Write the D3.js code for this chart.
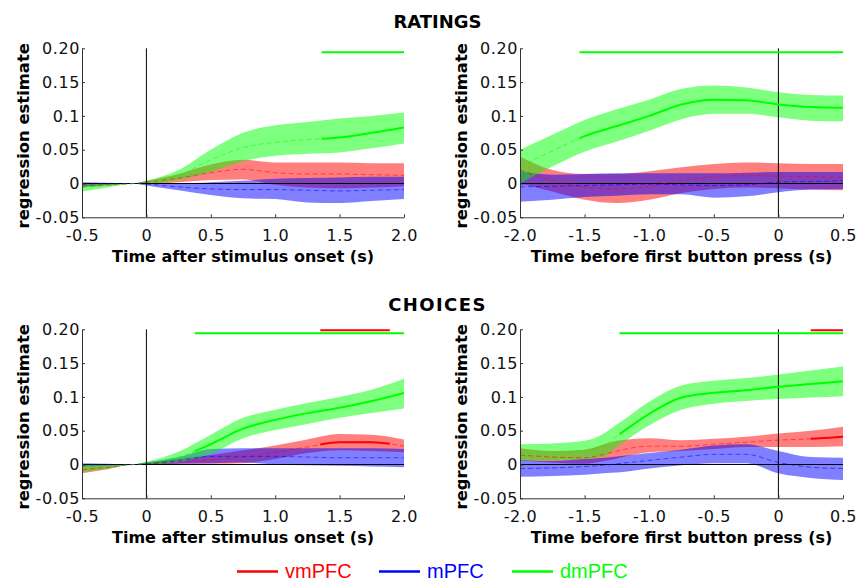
<!DOCTYPE html>
<html><head><meta charset="utf-8">
<script src="https://cdn.jsdelivr.net/npm/d3@7"></script>
<style>
body{margin:0;background:#fff;}
svg{display:block;}
</style></head>
<body>
<svg id="chart" width="858" height="586"></svg>
<script>
// ---------- data ----------
const seriesNames = ["vmPFC", "mPFC", "dmPFC"];
const seriesColors = ["#ff0000", "#0000ff", "#00ff00"];
const rowTitles = ["RATINGS", "CHOICES"];
const xLabelStim = "Time after stimulus onset (s)";
const xLabelPress = "Time before first button press (s)";
const yLabel = "regression estimate";

const yTicks = [-0.05, 0, 0.05, 0.1, 0.15, 0.20];
const yTickLabels = ["-0.05", "0", "0.05", "0.1", "0.15", "0.20"];
const xTicksStim = [-0.5, 0, 0.5, 1.0, 1.5, 2.0];
const xTickLabelsStim = ["-0.5", "0", "0.5", "1.0", "1.5", "2.0"];
const xTicksPress = [-2.0, -1.5, -1.0, -0.5, 0, 0.5];
const xTickLabelsPress = ["-2.0", "-1.5", "-1.0", "-0.5", "0", "0.5"];

// Panel A: ratings, stimulus-locked
const tA = [-0.5, -0.3, -0.1, 0, 0.25, 0.5, 0.75, 1.0, 1.25, 1.5, 1.75, 2.0];
const A_vm_mean = [-0.004, -0.002, 0, 0.002, 0.008, 0.016, 0.021, 0.016, 0.014, 0.014, 0.013, 0.012];
const A_vm_lo   = [-0.006, -0.003, 0, 0.0, 0.002, 0.005, 0.006, -0.002, -0.006, -0.007, -0.006, -0.004];
const A_vm_hi   = [-0.001, 0.0, 0, 0.004, 0.014, 0.028, 0.035, 0.031, 0.031, 0.031, 0.030, 0.030];
const A_m_mean  = [-0.001, 0.0, 0, -0.001, -0.005, -0.008, -0.009, -0.009, -0.010, -0.011, -0.010, -0.009];
const A_m_lo    = [-0.004, -0.002, 0, -0.003, -0.010, -0.017, -0.022, -0.023, -0.028, -0.029, -0.026, -0.023];
const A_m_hi    = [0.002, 0.001, 0, 0.001, 0.0, 0.002, 0.004, 0.007, 0.008, 0.009, 0.010, 0.010];
const A_dm_mean = [-0.006, -0.003, 0, 0.002, 0.012, 0.035, 0.053, 0.061, 0.065, 0.068, 0.075, 0.083];
const A_dm_lo   = [-0.012, -0.006, 0, 0.0, 0.005, 0.017, 0.033, 0.041, 0.044, 0.046, 0.052, 0.059];
const A_dm_hi   = [0.0, 0.0, 0, 0.004, 0.020, 0.050, 0.075, 0.086, 0.091, 0.096, 0.100, 0.105];
const A_sig_vm = null, A_sig_m = null, A_sig_dm = [1.36, 2.0];

// Panel B: ratings, response-locked
const tB = [-2.0, -1.75, -1.5, -1.25, -1.0, -0.75, -0.5, -0.25, 0, 0.25, 0.5];
const B_vm_mean = [0.020, 0.004, -0.005, -0.008, -0.004, 0.004, 0.010, 0.012, 0.011, 0.010, 0.009];
const B_vm_lo   = [0.0, -0.012, -0.024, -0.029, -0.024, -0.014, -0.008, -0.006, -0.007, -0.009, -0.010];
const B_vm_hi   = [0.040, 0.020, 0.014, 0.014, 0.018, 0.024, 0.029, 0.031, 0.030, 0.029, 0.029];
const B_m_mean  = [-0.005, -0.004, -0.003, -0.002, -0.001, -0.002, -0.003, -0.002, 0.002, 0.003, 0.004];
const B_m_lo    = [-0.027, -0.024, -0.020, -0.018, -0.016, -0.016, -0.021, -0.019, -0.013, -0.009, -0.008];
const B_m_hi    = [0.018, 0.013, 0.014, 0.015, 0.015, 0.015, 0.015, 0.016, 0.017, 0.017, 0.017];
const B_dm_mean = [0.025, 0.048, 0.070, 0.085, 0.100, 0.117, 0.124, 0.123, 0.117, 0.113, 0.112];
const B_dm_lo   = [0.0, 0.025, 0.047, 0.062, 0.078, 0.095, 0.103, 0.103, 0.098, 0.093, 0.092];
const B_dm_hi   = [0.050, 0.072, 0.094, 0.110, 0.124, 0.140, 0.145, 0.142, 0.135, 0.131, 0.130];
const B_sig_vm = null, B_sig_m = null, B_sig_dm = [-1.54, 0.5];

// Panel C: choices, stimulus-locked
const tC = [-0.5, -0.3, -0.1, 0, 0.25, 0.5, 0.75, 1.0, 1.25, 1.5, 1.75, 2.0];
const C_vm_mean = [-0.008, -0.004, 0, 0.001, 0.004, 0.007, 0.011, 0.018, 0.026, 0.033, 0.033, 0.027];
const C_vm_lo   = [-0.013, -0.007, 0, 0.0, 0.001, 0.001, 0.002, 0.008, 0.017, 0.021, 0.020, 0.018];
const C_vm_hi   = [-0.002, -0.001, 0, 0.003, 0.008, 0.014, 0.021, 0.028, 0.037, 0.045, 0.044, 0.037];
const C_m_mean  = [-0.001, 0.0, 0, 0.001, 0.006, 0.012, 0.012, 0.012, 0.011, 0.010, 0.010, 0.010];
const C_m_lo    = [-0.003, -0.002, 0, 0.0, 0.001, 0.002, 0.003, 0.0, -0.001, -0.002, -0.003, -0.004];
const C_m_hi    = [0.002, 0.001, 0, 0.003, 0.011, 0.023, 0.024, 0.024, 0.024, 0.024, 0.024, 0.023];
const C_dm_mean = [-0.005, -0.003, 0, 0.002, 0.011, 0.030, 0.053, 0.066, 0.076, 0.084, 0.094, 0.106];
const C_dm_lo   = [-0.011, -0.006, 0, 0.0, 0.004, 0.016, 0.039, 0.051, 0.060, 0.069, 0.076, 0.083];
const C_dm_hi   = [0.0, 0.0, 0, 0.004, 0.019, 0.044, 0.069, 0.081, 0.091, 0.100, 0.111, 0.127];
const C_sig_vm = [1.35, 1.89], C_sig_m = null, C_sig_dm = [0.375, 2.0];

// Panel D: choices, response-locked
const tD = [-2.0, -1.75, -1.5, -1.35, -1.25, -1.0, -0.75, -0.5, -0.25, 0, 0.25, 0.5];
const D_vm_mean = [0.014, 0.011, 0.010, 0.015, 0.020, 0.027, 0.027, 0.030, 0.033, 0.036, 0.038, 0.041];
const D_vm_lo   = [0.006, 0.003, 0.001, 0.005, 0.009, 0.018, 0.020, 0.023, 0.026, 0.026, 0.026, 0.027];
const D_vm_hi   = [0.024, 0.020, 0.022, 0.030, 0.035, 0.039, 0.036, 0.038, 0.041, 0.046, 0.050, 0.056];
const D_m_mean  = [-0.006, -0.005, -0.003, -0.001, 0.001, 0.006, 0.011, 0.015, 0.015, 0.003, -0.004, -0.006];
const D_m_lo    = [-0.018, -0.017, -0.015, -0.013, -0.012, -0.006, -0.001, 0.002, 0.002, -0.013, -0.020, -0.023];
const D_m_hi    = [0.007, 0.005, 0.008, 0.010, 0.012, 0.017, 0.022, 0.028, 0.030, 0.020, 0.011, 0.010];
const D_dm_mean = [0.017, 0.018, 0.021, 0.028, 0.042, 0.075, 0.099, 0.106, 0.110, 0.115, 0.119, 0.123];
const D_dm_lo   = [0.006, 0.006, 0.008, 0.012, 0.026, 0.058, 0.081, 0.090, 0.094, 0.097, 0.099, 0.101];
const D_dm_hi   = [0.030, 0.031, 0.035, 0.046, 0.059, 0.093, 0.117, 0.124, 0.128, 0.133, 0.139, 0.145];
const D_sig_vm = [0.25, 0.5], D_sig_m = null, D_sig_dm = [-1.23, 0.5];

// significance bar heights (data units)
const sigLevelVm = 0.1985, sigLevelDm = 0.194;

// ---------- layout ----------
const svg = d3.select("#chart");
const font = "'DejaVu Sans', sans-serif";
const colX = [{x0: 82, x1: 404}, {x0: 520, x1: 843}];
const rowY = [{y0: 48.3, y1: 217.3}, {y0: 329.3, y1: 498.3}];

const panels = [
  {row: 0, col: 0, t: tA, dom: [-0.5, 2.0], ticks: xTicksStim, labels: xTickLabelsStim, xl: xLabelStim,
   s: [[A_vm_mean, A_vm_lo, A_vm_hi, A_sig_vm], [A_m_mean, A_m_lo, A_m_hi, A_sig_m], [A_dm_mean, A_dm_lo, A_dm_hi, A_sig_dm]]},
  {row: 0, col: 1, t: tB, dom: [-2.0, 0.5], ticks: xTicksPress, labels: xTickLabelsPress, xl: xLabelPress,
   s: [[B_vm_mean, B_vm_lo, B_vm_hi, B_sig_vm], [B_m_mean, B_m_lo, B_m_hi, B_sig_m], [B_dm_mean, B_dm_lo, B_dm_hi, B_sig_dm]]},
  {row: 1, col: 0, t: tC, dom: [-0.5, 2.0], ticks: xTicksStim, labels: xTickLabelsStim, xl: xLabelStim,
   s: [[C_vm_mean, C_vm_lo, C_vm_hi, C_sig_vm], [C_m_mean, C_m_lo, C_m_hi, C_sig_m], [C_dm_mean, C_dm_lo, C_dm_hi, C_sig_dm]]},
  {row: 1, col: 1, t: tD, dom: [-2.0, 0.5], ticks: xTicksPress, labels: xTickLabelsPress, xl: xLabelPress,
   s: [[D_vm_mean, D_vm_lo, D_vm_hi, D_sig_vm], [D_m_mean, D_m_lo, D_m_hi, D_sig_m], [D_dm_mean, D_dm_lo, D_dm_hi, D_sig_dm]]}
];

// row titles
rowTitles.forEach((title, i) => {
  svg.append("text").attr("x", 437.5).attr("y", i === 0 ? 28 : 311)
    .attr("text-anchor", "middle").attr("font-family", font).attr("font-weight", "bold")
    .attr("font-size", 18).attr("fill", "#000")
    .attr("letter-spacing", i === 0 ? "0px" : "1.4px").text(title);
});

panels.forEach((p, pi) => {
  const cx = colX[p.col], ry = rowY[p.row];
  const x = d3.scaleLinear().domain(p.dom).range([cx.x0, cx.x1]);
  const y = d3.scaleLinear().domain([-0.05, 0.20]).range([ry.y1, ry.y0]);
  const g = svg.append("g");

  const clipId = "clip" + pi;
  g.append("clipPath").attr("id", clipId).append("rect")
    .attr("x", cx.x0).attr("y", ry.y0 - 10).attr("width", cx.x1 - cx.x0).attr("height", ry.y1 - ry.y0 + 10);
  const plot = g.append("g").attr("clip-path", `url(#${clipId})`);

  // bands
  p.s.forEach((ser, si) => {
    const [mean, lo, hi] = ser;
    const area = d3.area().curve(d3.curveMonotoneX)
      .x((d, i) => x(p.t[i])).y0((d, i) => y(lo[i])).y1((d, i) => y(hi[i]));
    plot.append("path").datum(mean).attr("d", area)
      .attr("fill", seriesColors[si]).attr("fill-opacity", 0.5).attr("stroke", "none");
  });

  // zero lines
  plot.append("line").attr("x1", cx.x0).attr("x2", cx.x1).attr("y1", y(0)).attr("y2", y(0))
    .attr("stroke", "#000").attr("stroke-width", 1);
  g.append("line").attr("x1", x(0)).attr("x2", x(0)).attr("y1", ry.y0).attr("y2", ry.y1)
    .attr("stroke", "#000").attr("stroke-width", 1);

  // mean lines
  p.s.forEach((ser, si) => {
    const [mean, lo, hi, sig] = ser;
    const line = d3.line().curve(d3.curveMonotoneX).x((d, i) => x(p.t[i])).y(d => y(d));
    plot.append("path").datum(mean).attr("d", line).attr("fill", "none")
      .attr("stroke", seriesColors[si]).attr("stroke-width", 0.9).attr("stroke-opacity", 0.6)
      .attr("stroke-dasharray", "5,3");
    if (sig) {
      const sid = "sig" + pi + "_" + si;
      g.append("clipPath").attr("id", sid).append("rect")
        .attr("x", x(sig[0])).attr("y", ry.y0 - 10).attr("width", x(sig[1]) - x(sig[0]))
        .attr("height", ry.y1 - ry.y0 + 10);
      g.append("path").datum(mean).attr("d", line).attr("fill", "none")
        .attr("clip-path", `url(#${sid})`)
        .attr("stroke", seriesColors[si]).attr("stroke-width", 2);
      const lev = si === 0 ? sigLevelVm : sigLevelDm;
      g.append("line").attr("x1", x(sig[0])).attr("x2", x(sig[1]))
        .attr("y1", y(lev)).attr("y2", y(lev))
        .attr("stroke", seriesColors[si]).attr("stroke-width", 2);
    }
  });

  // axes
  const yAxis = d3.axisLeft(y).tickValues(yTicks)
    .tickFormat((d, i) => yTickLabels[i]).tickSizeInner(-3).tickSizeOuter(0).tickPadding(2);
  const ya = g.append("g").attr("transform", `translate(${cx.x0},0)`).call(yAxis);
  const xAxis = d3.axisBottom(x).tickValues(p.ticks)
    .tickFormat((d, i) => p.labels[i]).tickSizeInner(-3).tickSizeOuter(0).tickPadding(12);
  const xa = g.append("g").attr("transform", `translate(0,${ry.y1})`).call(xAxis);
  [ya, xa].forEach(a => {
    a.select(".domain").attr("stroke", "#333");
    a.selectAll(".tick line").attr("stroke", "#333");
    a.selectAll(".tick text").attr("font-family", font).attr("font-size", 16)
      .attr("fill", "#111").attr("letter-spacing", "0.6px");
  });

  // axis labels
  g.append("text").attr("x", (cx.x0 + cx.x1) / 2).attr("y", ry.y1 + 45)
    .attr("text-anchor", "middle").attr("font-family", font).attr("font-weight", "bold")
    .attr("font-size", 16).attr("fill", "#000").text(p.xl);
  g.append("text")
    .attr("transform", `translate(${cx.x0 - 53},${(ry.y0 + ry.y1) / 2 + 3}) rotate(-90)`)
    .attr("text-anchor", "middle").attr("font-family", font).attr("font-weight", "bold")
    .attr("font-size", 16.4).attr("fill", "#000").text(yLabel);
});

// legend
const legendX = [237, 379, 512];
seriesNames.forEach((name, i) => {
  const lg = svg.append("g");
  lg.append("line").attr("x1", legendX[i]).attr("x2", legendX[i] + 41)
    .attr("y1", 571.5).attr("y2", 571.5).attr("stroke", seriesColors[i]).attr("stroke-width", 2.5);
  lg.append("text").attr("x", legendX[i] + 48).attr("y", 578)
    .attr("font-family", "'Liberation Sans', Arial, sans-serif").attr("font-size", 20)
    .attr("fill", seriesColors[i]).text(name);
});
</script>
</body></html>
